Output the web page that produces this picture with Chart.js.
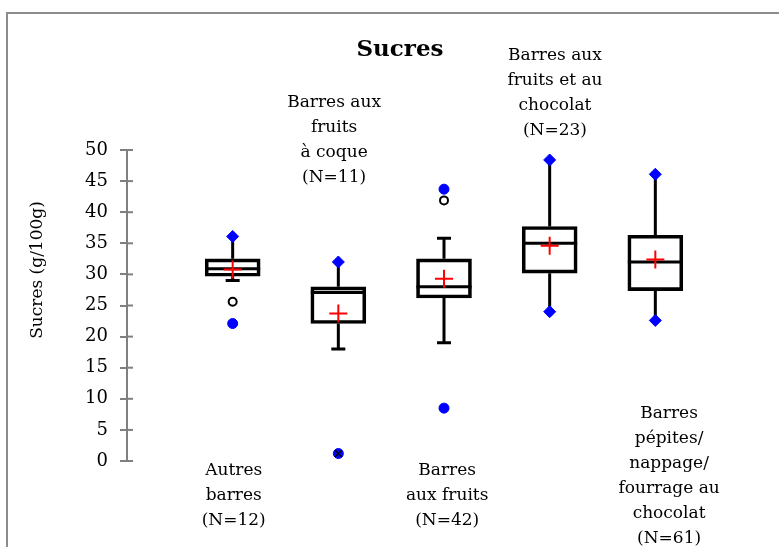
<!DOCTYPE html>
<html>
<head>
<meta charset="utf-8">
<script src="https://cdn.jsdelivr.net/npm/chart.js@4.4.0/dist/chart.umd.min.js"></script>
<style>
  html, body { margin: 0; padding: 0; background: #fff; overflow: hidden; }
  #wrap { position: relative; width: 779px; height: 547px; }
  #frame { position: absolute; left: 6px; top: 12px; width: 900px; height: 700px; border: 2px solid #8c8c8c; }
  canvas { position: absolute; left: 0; top: 0; }
</style>
</head>
<body>
<div id="wrap"><div id="frame"></div><canvas id="chart" width="779" height="547"></canvas></div>
<script>
// Données (une boîte par catégorie, positions 1..5)
const positions = [1, 2, 3, 4, 5];
const catLabels = [
  ['Autres', 'barres', '(N=12)'],
  ['Barres aux', 'fruits', 'à coque', '(N=11)'],
  ['Barres', 'aux fruits', '(N=42)'],
  ['Barres aux', 'fruits et au', 'chocolat', '(N=23)'],
  ['Barres', 'pépites/', 'nappage/', 'fourrage au', 'chocolat', '(N=61)']
];
// position des étiquettes (en unités d'axe : x = catégorie, y = valeur de la 1re ligne)
const labelX = [1.01, 1.96, 3.03, 4.05, 5.13];
const labelY = [-1.5, 57.7, -1.5, 65.1, 7.6];

const q1 = [29.7, 22.1, 26.2, 30.2, 27.4];
const q3 = [32.5, 28.0, 32.5, 37.7, 36.3];
const medians = [30.9, 27.1, 28.0, 35.0, 32.0];
const means = [30.8, 23.7, 29.3, 34.6, 32.4];
const whiskerLow = [29.0, 18.0, 19.0, 24.0, 22.6];
const whiskerHigh = [36.1, 32.0, 35.8, 48.4, 46.1];
const minimums = [22.1, 1.2, 8.5, 24.0, 22.6];
const maximums = [36.1, 32.0, 43.7, 48.4, 46.1];
const outliersOpen = [25.6, null, 41.9, null, null];
const extremes = [null, 1.2, null, null, null];

const yMin = 0, yMax = 50, yStep = 5;

const BOX_W = 55;
const FONT = '"DejaVu Serif", "Liberation Serif", serif';

// points min / max : losange si c'est la fin de moustache, sinon point bleu (valeur atypique)
const diamonds = [];
const blueDots = [];
positions.forEach((x, i) => {
  (minimums[i] === whiskerLow[i] ? diamonds : blueDots).push({ x: x, y: minimums[i] });
  (maximums[i] === whiskerHigh[i] ? diamonds : blueDots).push({ x: x, y: maximums[i] });
});
const openPts = positions.map((x, i) => ({ x: x, y: outliersOpen[i] })).filter(p => p.y !== null);
const extremePts = positions.map((x, i) => ({ x: x, y: extremes[i] })).filter(p => p.y !== null);

// moustaches, médianes, étiquettes
const boxPlugin = {
  id: 'boxExtras',
  beforeDatasetsDraw(chart) {
    const { ctx, scales: { x, y } } = chart;
    ctx.save();
    ctx.strokeStyle = '#000';
    ctx.lineWidth = 3;
    positions.forEach((p, i) => {
      const px = x.getPixelForValue(p);
      ctx.beginPath();
      ctx.moveTo(px, y.getPixelForValue(q3[i]));
      ctx.lineTo(px, y.getPixelForValue(whiskerHigh[i]));
      ctx.moveTo(px, y.getPixelForValue(q1[i]));
      ctx.lineTo(px, y.getPixelForValue(whiskerLow[i]));
      ctx.moveTo(px - BOX_W / 2, y.getPixelForValue(medians[i]));
      ctx.lineTo(px + BOX_W / 2, y.getPixelForValue(medians[i]));
      if (whiskerLow[i] !== minimums[i]) {
        ctx.moveTo(px - 7, y.getPixelForValue(whiskerLow[i]));
        ctx.lineTo(px + 7, y.getPixelForValue(whiskerLow[i]));
      }
      if (whiskerHigh[i] !== maximums[i]) {
        ctx.moveTo(px - 7, y.getPixelForValue(whiskerHigh[i]));
        ctx.lineTo(px + 7, y.getPixelForValue(whiskerHigh[i]));
      }
      ctx.stroke();
    });
    // partie intérieure des graduations (elles traversent l'axe)
    ctx.strokeStyle = '#808080';
    ctx.lineWidth = 2;
    y.ticks.forEach(t => {
      const py = y.getPixelForValue(t.value);
      ctx.beginPath();
      ctx.moveTo(x.left, py);
      ctx.lineTo(x.left + 6, py);
      ctx.stroke();
    });
    ctx.restore();
  },
  afterDraw(chart) {
    const { ctx, scales: { x, y } } = chart;
    ctx.save();
    ctx.fillStyle = '#000';
    ctx.textAlign = 'center';
    ctx.textBaseline = 'middle';
    // titre
    ctx.font = 'bold 23px ' + FONT;
    ctx.fillText('Sucres', 400, 50);
    ctx.font = '17px ' + FONT;
    catLabels.forEach((lines, i) => {
      const cx = x.getPixelForValue(labelX[i]);
      const top = y.getPixelForValue(labelY[i]);
      lines.forEach((l, k) => ctx.fillText(l, cx, top + k * 25));
    });
    // titre de l'axe Y
    ctx.translate(38, 270);
    ctx.rotate(-Math.PI / 2);
    ctx.fillText('Sucres (g/100g)', 0, 0);
    ctx.restore();
  }
};

new Chart(document.getElementById('chart').getContext('2d'), {
  type: 'bar',
  data: {
    datasets: [
      {
        type: 'scatter', label: 'Moyenne',
        data: positions.map((x, i) => ({ x: x, y: means[i] })),
        pointStyle: 'cross', pointRadius: 9, borderColor: '#ff0000', borderWidth: 2
      },
      {
        type: 'scatter', label: 'Extrême',
        data: extremePts,
        pointStyle: 'crossRot', pointRadius: 5, borderColor: '#000', borderWidth: 1.5
      },
      {
        type: 'scatter', label: 'Min/Max',
        data: diamonds,
        pointStyle: 'rectRot', pointRadius: 6, backgroundColor: '#0000ff', borderColor: '#0000ff', borderWidth: 1
      },
      {
        type: 'scatter', label: 'Atypiques',
        data: blueDots,
        pointStyle: 'circle', pointRadius: 5, backgroundColor: '#0000ff', borderColor: '#0000ff', borderWidth: 1
      },
      {
        type: 'scatter', label: 'Atypiques (ouverts)',
        data: openPts,
        pointStyle: 'circle', pointRadius: 4, backgroundColor: '#fff', borderColor: '#000', borderWidth: 2
      },
      {
        label: 'Boîtes',
        data: positions.map((x, i) => ({ x: x, y: [q1[i], q3[i]] })),
        backgroundColor: 'rgba(0,0,0,0)',
        borderColor: '#000',
        borderWidth: 3,
        borderSkipped: false,
        barThickness: BOX_W
      }
    ]
  },
  options: {
    responsive: false,
    animation: false,
    layout: { padding: { left: 0, right: 18, top: 150, bottom: 86 } },
    scales: {
      x: {
        type: 'linear', min: 0, max: 6, display: false, offset: false
      },
      y: {
        min: yMin, max: yMax,
        afterFit(scale) { scale.width = 127; },
        ticks: { stepSize: yStep, color: '#000', font: { family: FONT, size: 18 }, padding: 12 },
        grid: { drawOnChartArea: false, tickLength: 7, color: '#808080', lineWidth: 2 },
        border: { color: '#808080', width: 2 }
      }
    },
    plugins: {
      legend: { display: false },
      tooltip: { enabled: false },
      title: { display: false }
    }
  },
  plugins: [boxPlugin]
});
</script>
</body>
</html>
